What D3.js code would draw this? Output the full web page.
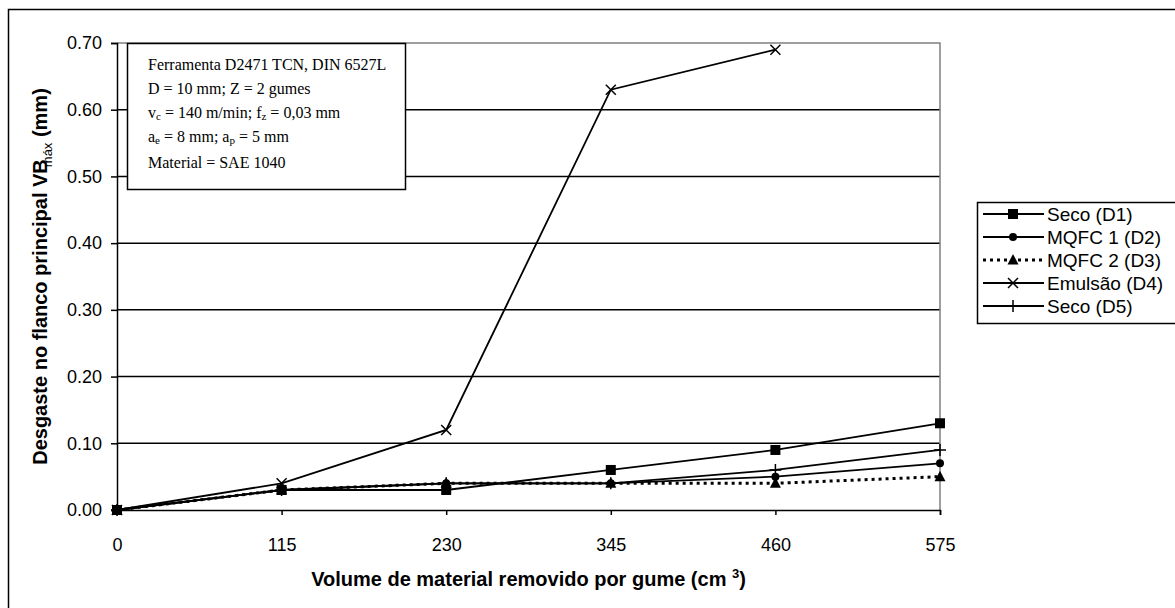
<!DOCTYPE html>
<html>
<head>
  <meta charset="utf-8">
  <script src="https://d3js.org/d3.v7.min.js"></script>
  <style>
    body { margin: 0; background: #fff; }
    text { font-family: Arial, "Liberation Sans", sans-serif; fill: #000; }
    .serif { font-family: "Times New Roman", "Liberation Serif", serif; }
  </style>
</head>
<body>
  <svg width="1175" height="608"></svg>
  <script>
    // dados
    const volumes = [0, 115, 230, 345, 460, 575];
    const yTicks = [0, 0.1, 0.2, 0.3, 0.4, 0.5, 0.6, 0.7];
    const seriesNames = ["Seco (D1)", "MQFC 1 (D2)", "MQFC 2 (D3)", "Emulsão (D4)", "Seco (D5)"];
    const secoD1 = [0, 0.03, 0.03, 0.06, 0.09, 0.13];
    const mqfc1D2 = [0, 0.03, 0.04, 0.04, 0.05, 0.07];
    const mqfc2D3 = [0, 0.03, 0.04, 0.04, 0.04, 0.05];
    const emulsaoD4 = [0, 0.04, 0.12, 0.63, 0.69, null];
    const secoD5 = [0, 0.03, 0.04, 0.04, 0.06, 0.09];
    const markers = ["square", "circle", "triangle", "cross", "plus"];

    const allSeries = [secoD1, mqfc1D2, mqfc2D3, emulsaoD4, secoD5];

    const svg = d3.select("svg");
    const pLeft = 117, pRight = 940, pTop = 43, pBottom = 510;

    // borda externa
    svg.append("path")
      .attr("d", "M8.5,620 L8.5,9.5 L1200,9.5")
      .attr("fill", "none").attr("stroke", "#000").attr("stroke-width", 1.5);

    const x = d3.scalePoint().domain(volumes).range([pLeft, pRight]);
    const y = d3.scaleLinear().domain([0, 0.7]).range([pBottom, pTop]);

    // linhas de grade
    svg.append("g").selectAll("line")
      .data(yTicks.slice(1, -1))
      .join("line")
      .attr("x1", pLeft).attr("x2", pRight)
      .attr("y1", d => y(d)).attr("y2", d => y(d))
      .attr("stroke", "#000").attr("stroke-width", 1.5);

    // moldura cinza (topo e direita)
    svg.append("path")
      .attr("d", `M${pLeft},${pTop} L${pRight},${pTop} L${pRight},${pBottom}`)
      .attr("fill", "none").attr("stroke", "#808080").attr("stroke-width", 1.5);

    // eixo Y
    const yAxis = svg.append("g").attr("transform", `translate(${pLeft},0)`)
      .call(d3.axisLeft(y).tickValues(yTicks).tickFormat(d3.format(".2f")).tickSize(6).tickPadding(9));
    yAxis.select(".domain").attr("stroke", "#000").attr("stroke-width", 1.5);
    yAxis.selectAll(".tick line").attr("stroke-width", 1.5);
    yAxis.selectAll("text").style("font-size", "18px").style("font-family", "Arial, 'Liberation Sans'");

    // eixo X
    const xAxis = svg.append("g").attr("transform", `translate(0,${pBottom})`)
      .call(d3.axisBottom(x).tickSize(5).tickPadding(23));
    xAxis.select(".domain").attr("stroke", "#000").attr("stroke-width", 1.5);
    xAxis.selectAll(".tick line").attr("stroke-width", 1.5);
    xAxis.selectAll("text").style("font-size", "18px").style("font-family", "Arial, 'Liberation Sans'");

    // títulos dos eixos
    const xt = svg.append("text")
      .attr("x", (pLeft + pRight) / 2).attr("y", 586)
      .attr("text-anchor", "middle")
      .style("font-size", "20px").style("font-weight", "bold");
    xt.append("tspan").text("Volume de material removido por gume (cm ");
    xt.append("tspan").attr("dy", -8).style("font-size", "13px").text("3");
    xt.append("tspan").attr("dy", 8).text(")");

    const yt = svg.append("text")
      .attr("transform", `translate(47,${(pTop + pBottom) / 2}) rotate(-90)`)
      .attr("text-anchor", "middle")
      .style("font-size", "20px").style("font-weight", "bold");
    yt.append("tspan").text("Desgaste no flanco principal VB");
    yt.append("tspan").attr("dx", -8).attr("dy", 5).style("font-size", "13px").style("font-weight", "normal").text("máx");
    yt.append("tspan").attr("dy", -5).text(" (mm)");

    // símbolos
    function drawMarker(g, type, cx, cy) {
      if (type === "square") {
        g.append("rect").attr("x", cx - 5).attr("y", cy - 5).attr("width", 10).attr("height", 10).attr("fill", "#000");
      } else if (type === "circle") {
        g.append("circle").attr("cx", cx).attr("cy", cy).attr("r", 4).attr("fill", "#000");
      } else if (type === "triangle") {
        g.append("path").attr("d", `M${cx},${cy - 6} L${cx + 5.5},${cy + 4.5} L${cx - 5.5},${cy + 4.5} Z`).attr("fill", "#000");
      } else if (type === "cross") {
        g.append("path").attr("d", `M${cx - 5},${cy - 5} L${cx + 5},${cy + 5} M${cx - 5},${cy + 5} L${cx + 5},${cy - 5}`)
          .attr("stroke", "#000").attr("stroke-width", 1.5);
      } else if (type === "plus") {
        g.append("path").attr("d", `M${cx},${cy - 6} L${cx},${cy + 6} M${cx - 6},${cy} L${cx + 6},${cy}`)
          .attr("stroke", "#000").attr("stroke-width", 1.5);
      }
    }

    const line = d3.line()
      .defined(d => d.v !== null)
      .x(d => x(d.x)).y(d => y(d.v));

    const seriesG = svg.append("g");
    allSeries.forEach((vals, i) => {
      const pts = volumes.map((v, j) => ({ x: v, v: vals[j] }));
      seriesG.append("path")
        .datum(pts)
        .attr("d", line)
        .attr("fill", "none")
        .attr("stroke", "#000")
        .attr("stroke-width", i === 2 ? 3 : 1.8)
        .attr("stroke-dasharray", i === 2 ? "3,4" : null);
      const mg = seriesG.append("g");
      pts.filter(p => p.v !== null).forEach(p => drawMarker(mg, markers[i], x(p.x), y(p.v)));
    });

    // caixa de texto
    const box = svg.append("g");
    box.append("rect")
      .attr("x", 127.5).attr("y", 43.5).attr("width", 278).attr("height", 146)
      .attr("fill", "#fff").attr("stroke", "#000").attr("stroke-width", 1.5);
    const boxLines = [
      [["Ferramenta D2471 TCN, DIN 6527L", 0]],
      [["D = 10 mm; Z = 2 gumes", 0]],
      [["v", 0], ["c", 1], [" = 140 m/min;  f", 0], ["z", 1], [" = 0,03 mm", 0]],
      [["a", 0], ["e", 1], [" = 8 mm; a", 0], ["p", 1], [" = 5 mm", 0]],
      [["Material = SAE 1040", 0]]
    ];
    const boxY = [70, 94, 118, 142, 168];
    boxLines.forEach((parts, i) => {
      const t = box.append("text").attr("class", "serif")
        .attr("x", 148).attr("y", boxY[i]).style("font-size", "16px");
      parts.forEach(([s, sub]) => {
        t.append("tspan").attr("class", "serif")
          .attr("baseline-shift", sub ? "-20%" : null)
          .style("font-size", sub ? "11px" : "16px")
          .text(s);
      });
    });

    // legenda
    const leg = svg.append("g");
    leg.append("rect")
      .attr("x", 977.5).attr("y", 202.5).attr("width", 230).attr("height", 121)
      .attr("fill", "#fff").attr("stroke", "#000").attr("stroke-width", 1.5);
    seriesNames.forEach((name, i) => {
      const cy = 214 + i * 23;
      leg.append("line")
        .attr("x1", 983).attr("x2", 1044).attr("y1", cy).attr("y2", cy)
        .attr("stroke", "#000")
        .attr("stroke-width", i === 2 ? 3 : 1.8)
        .attr("stroke-dasharray", i === 2 ? "3,4" : null);
      drawMarker(leg, markers[i], 1013, cy);
      leg.append("text").attr("x", 1047).attr("y", cy + 7).style("font-size", "19px").text(name);
    });
  </script>
</body>
</html>
